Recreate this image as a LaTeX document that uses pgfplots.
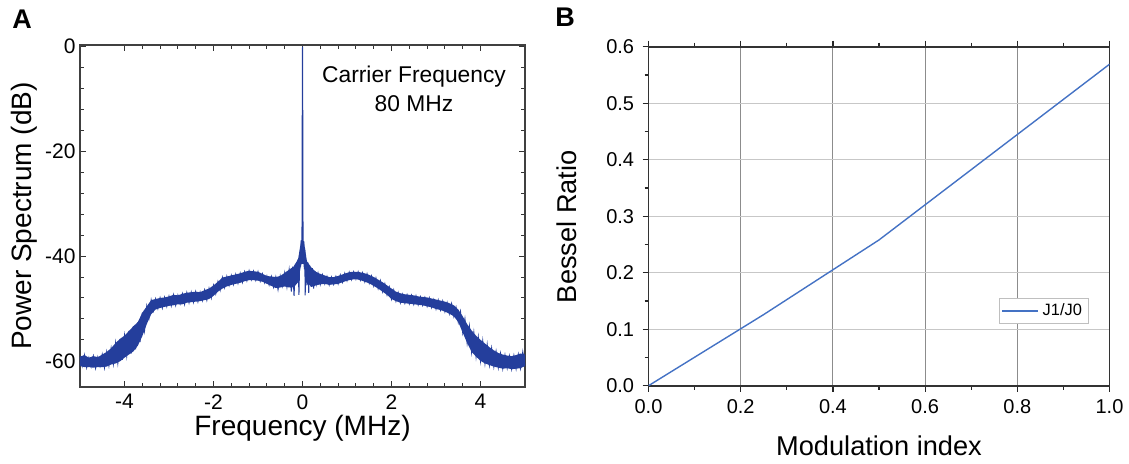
\documentclass[border=0pt]{standalone}
\usepackage{pgfplots}
\pgfplotsset{compat=1.18}
\usepackage{fontspec}
\setmainfont{Liberation Sans}
\definecolor{specblue}{RGB}{36,62,156}
\definecolor{besselblue}{RGB}{68,114,196}
\pgfplotstableread{
f db
-5.00 -59.2
-4.95 -61.0
-4.90 -58.9
-4.85 -61.3
-4.80 -59.4
-4.75 -61.1
-4.70 -59.1
-4.65 -61.4
-4.60 -59.3
-4.55 -61.0
-4.50 -58.8
-4.45 -61.3
-4.40 -58.3
-4.35 -60.9
-4.30 -57.6
-4.25 -60.6
-4.20 -56.6
-4.15 -60.4
-4.10 -55.8
-4.05 -59.8
-4.00 -55.2
-3.95 -59.0
-3.90 -54.3
-3.85 -58.6
-3.80 -53.4
-3.75 -57.8
-3.70 -52.6
-3.65 -56.4
-3.60 -50.8
-3.55 -54.2
-3.50 -49.6
-3.45 -51.8
-3.40 -48.4
-3.35 -50.4
-3.30 -48.2
-3.25 -50.0
-3.20 -48.0
-3.15 -49.9
-3.10 -47.9
-3.05 -49.6
-3.00 -47.7
-2.95 -49.5
-2.90 -47.4
-2.85 -49.4
-2.80 -47.5
-2.75 -49.1
-2.70 -47.2
-2.65 -49.2
-2.60 -47.0
-2.55 -48.9
-2.50 -46.9
-2.45 -48.8
-2.40 -46.8
-2.35 -48.7
-2.30 -46.9
-2.25 -48.5
-2.20 -46.5
-2.15 -48.4
-2.10 -46.2
-2.05 -48.0
-2.00 -45.6
-1.95 -47.2
-1.90 -44.9
-1.85 -46.5
-1.80 -44.1
-1.75 -46.0
-1.70 -43.9
-1.65 -45.6
-1.60 -43.7
-1.55 -45.4
-1.50 -43.5
-1.45 -45.2
-1.40 -43.3
-1.35 -45.0
-1.30 -43.0
-1.25 -44.7
-1.20 -42.8
-1.15 -44.5
-1.10 -42.9
-1.05 -44.6
-1.00 -43.0
-0.95 -44.8
-0.90 -43.4
-0.85 -45.1
-0.80 -43.8
-0.75 -45.5
-0.70 -43.9
-0.65 -45.9
-0.60 -44.0
-0.55 -46.4
-0.50 -43.8
-0.45 -45.7
-0.40 -43.2
-0.35 -45.9
-0.30 -42.6
-0.25 -46.8
-0.22 -42.0
-0.19 -47.6
-0.16 -41.5
-0.13 -45.0
-0.10 -40.6
-0.08 -47.4
-0.06 -39.5
-0.04 -42.0
-0.03 -37.0
-0.02 -41.5
-0.012 -36.8
-0.004 -6.5
0.000 0.0
0.004 -6.5
0.012 -36.8
0.02 -41.0
0.03 -37.2
0.04 -42.5
0.05 -38.5
0.06 -47.5
0.08 -40.8
0.10 -45.6
0.12 -41.2
0.14 -47.0
0.16 -41.8
0.19 -45.8
0.22 -42.3
0.25 -46.2
0.28 -42.9
0.31 -45.3
0.35 -43.3
0.40 -45.4
0.45 -43.6
0.50 -45.3
0.55 -43.9
0.60 -45.5
0.65 -44.0
0.70 -45.4
0.75 -43.9
0.80 -45.3
0.85 -43.6
0.90 -45.0
0.95 -43.3
1.00 -44.7
1.05 -43.1
1.10 -44.5
1.15 -43.0
1.20 -44.4
1.25 -43.0
1.30 -44.6
1.35 -43.2
1.40 -44.9
1.45 -43.4
1.50 -45.2
1.55 -43.8
1.60 -45.7
1.65 -44.2
1.70 -46.2
1.75 -44.7
1.80 -46.8
1.85 -45.3
1.90 -47.4
1.95 -45.9
2.00 -48.2
2.05 -46.5
2.10 -48.6
2.15 -47.0
2.20 -48.9
2.25 -47.3
2.30 -49.0
2.35 -47.4
2.40 -49.1
2.45 -47.5
2.50 -49.2
2.55 -47.6
2.60 -49.3
2.65 -47.8
2.70 -49.4
2.75 -47.9
2.80 -49.6
2.85 -48.0
2.90 -49.8
2.95 -48.3
3.00 -50.1
3.05 -48.4
3.10 -50.3
3.15 -48.6
3.20 -50.6
3.25 -48.9
3.30 -51.0
3.35 -49.1
3.40 -51.5
3.45 -49.8
3.50 -52.6
3.55 -50.6
3.60 -54.6
3.65 -52.0
3.70 -56.6
3.75 -53.4
3.80 -58.3
3.85 -54.6
3.90 -59.2
3.95 -55.5
4.00 -60.0
4.05 -56.2
4.10 -60.5
4.15 -56.9
4.20 -60.8
4.25 -57.6
4.30 -61.1
4.35 -58.2
4.40 -61.3
4.45 -58.6
4.50 -61.5
4.55 -58.9
4.60 -61.4
4.65 -59.1
4.70 -61.6
4.75 -59.0
4.80 -61.5
4.85 -58.8
4.90 -61.4
4.95 -58.3
5.00 -61.0
}\spectrum
% band outline: upper envelope left to right, then lower envelope right to left
\pgfplotstableread{
f db
-5.0 -59.2
-4.9 -58.9
-4.8 -59.4
-4.7 -59.1
-4.6 -59.3
-4.5 -58.8
-4.4 -58.3
-4.3 -57.6
-4.2 -56.6
-4.1 -55.8
-4.0 -55.2
-3.9 -54.3
-3.8 -53.4
-3.7 -52.6
-3.6 -50.8
-3.5 -49.6
-3.4 -48.4
-3.3 -48.2
-3.2 -48.0
-3.1 -47.9
-3.0 -47.7
-2.9 -47.4
-2.8 -47.5
-2.7 -47.2
-2.6 -47.0
-2.5 -46.9
-2.4 -46.8
-2.3 -46.9
-2.2 -46.5
-2.1 -46.2
-2.0 -45.6
-1.9 -44.9
-1.8 -44.1
-1.7 -43.9
-1.6 -43.7
-1.5 -43.5
-1.4 -43.3
-1.3 -43.0
-1.2 -42.8
-1.1 -42.9
-1.0 -43.0
-0.9 -43.4
-0.8 -43.8
-0.7 -43.9
-0.6 -44.0
-0.5 -43.8
-0.4 -43.2
-0.3 -42.6
-0.2 -42.0
-0.1 -40.6
-0.03 -37.0
0.03 -37.2
0.1 -41.0
0.2 -42.2
0.3 -43.0
0.4 -43.4
0.5 -43.7
0.6 -44.0
0.7 -44.0
0.8 -43.8
0.9 -43.5
1.0 -43.2
1.1 -43.0
1.2 -43.0
1.3 -43.1
1.4 -43.3
1.5 -43.6
1.6 -44.0
1.7 -44.5
1.8 -45.0
1.9 -45.6
2.0 -46.2
2.1 -46.8
2.2 -47.1
2.3 -47.3
2.4 -47.4
2.5 -47.5
2.6 -47.7
2.7 -47.8
2.8 -47.9
2.9 -48.1
3.0 -48.3
3.1 -48.5
3.2 -48.7
3.3 -49.0
3.4 -49.4
3.5 -50.2
3.6 -51.5
3.7 -53.0
3.8 -54.2
3.9 -55.2
4.0 -56.0
4.1 -56.7
4.2 -57.4
4.3 -58.0
4.4 -58.5
4.5 -58.8
4.6 -59.0
4.7 -59.1
4.8 -58.9
4.9 -58.6
5.0 -58.8
5.0 -61.0
4.9 -61.4
4.8 -61.5
4.7 -61.6
4.6 -61.4
4.5 -61.5
4.4 -61.3
4.3 -61.1
4.2 -60.8
4.1 -60.5
4.0 -60.0
3.9 -59.2
3.8 -58.3
3.7 -56.6
3.6 -54.6
3.5 -52.6
3.4 -51.5
3.3 -51.0
3.2 -50.6
3.1 -50.3
3.0 -50.1
2.9 -49.8
2.8 -49.6
2.7 -49.4
2.6 -49.3
2.5 -49.2
2.4 -49.1
2.3 -49.0
2.2 -48.9
2.1 -48.6
2.0 -48.2
1.9 -47.4
1.8 -46.8
1.7 -46.2
1.6 -45.7
1.5 -45.2
1.4 -44.9
1.3 -44.6
1.2 -44.4
1.1 -44.5
1.0 -44.7
0.9 -45.0
0.8 -45.3
0.7 -45.4
0.6 -45.5
0.5 -45.3
0.4 -45.4
0.3 -45.6
0.2 -45.9
0.1 -45.0
0.03 -41.5
-0.03 -41.5
-0.1 -45.0
-0.2 -46.0
-0.3 -46.0
-0.4 -45.8
-0.5 -46.0
-0.6 -46.1
-0.7 -45.7
-0.8 -45.3
-0.9 -44.9
-1.0 -44.7
-1.1 -44.6
-1.2 -44.6
-1.3 -44.8
-1.4 -45.1
-1.5 -45.3
-1.6 -45.5
-1.7 -45.8
-1.8 -46.2
-1.9 -46.8
-2.0 -47.6
-2.1 -48.2
-2.2 -48.4
-2.3 -48.6
-2.4 -48.7
-2.5 -48.8
-2.6 -48.9
-2.7 -49.2
-2.8 -49.2
-2.9 -49.4
-3.0 -49.5
-3.1 -49.7
-3.2 -49.9
-3.3 -50.2
-3.4 -51.1
-3.5 -53.0
-3.6 -55.3
-3.7 -57.1
-3.8 -58.2
-3.9 -58.8
-4.0 -59.4
-4.1 -60.1
-4.2 -60.5
-4.3 -60.7
-4.4 -61.1
-4.5 -61.2
-4.6 -61.2
-4.7 -61.3
-4.8 -61.2
-4.9 -61.2
-5.0 -61.0
}\band
\pgfplotstableread{
m r
0.00 0.000
0.25 0.126
0.50 0.258
1.00 0.569
}\bessel
\begin{document}
\begin{tikzpicture}
\path[use as bounding box] (0,0) rectangle (564.5pt,231.5pt);
\node[anchor=base west, font=\fontsize{13.5}{15}\selectfont\bfseries, inner sep=0pt] at (6pt,217.5pt) {A};
\node[anchor=base west, font=\fontsize{13.5}{15}\selectfont\bfseries, inner sep=0pt] at (277.5pt,218.2pt) {B};
\begin{axis}[
  at={(40pt,38pt)}, anchor=south west,
  scale only axis, width=222.5pt, height=171pt,
  xmin=-5, xmax=5, ymin=-65, ymax=0.3,
  xtick={-4,-2,0,2,4}, xticklabels={-4,-2,0,2,4},
  ytick={-60,-40,-20,0}, yticklabels={-60,-40,-20,0},
  minor x tick num=4, minor y tick num=4,
  tick align=inside,
  major tick length=3pt, minor tick length=1.8pt,
  every tick/.style={black!80, line width=0.5pt},
  axis line style={black!75, line width=0.6pt},
  tick label style={font=\fontsize{10.5}{12}\selectfont, inner sep=0pt},
  xticklabel style={yshift=-3.5pt},
  yticklabel style={xshift=-2pt},
  xlabel={Frequency (MHz)},
  ylabel={Power Spectrum (dB)},
  label style={font=\fontsize{14}{16}\selectfont, inner sep=0pt},
  xlabel style={at={(axis description cs:0.5,-0.1404)}, anchor=base},
  ylabel style={at={(axis description cs:-0.1085,0.5)}, anchor=base},
]
\addplot[fill=specblue, draw=none] table[x=f, y=db] {\band};
\addplot[specblue, line width=0.5pt] table[x=f, y=db] {\spectrum};
\node[anchor=base, font=\fontsize{11.4}{13}\selectfont] at (rel axis cs:0.7506,0.889) {Carrier Frequency};
\node[anchor=base, font=\fontsize{11.4}{13}\selectfont] at (rel axis cs:0.7506,0.805) {80 MHz};
\end{axis}
\begin{axis}[
  at={(324.25pt,38.65pt)}, anchor=south west,
  scale only axis, width=230.5pt, height=169.5pt,
  xmin=0, xmax=1, ymin=0, ymax=0.6,
  xtick={0,0.2,0.4,0.6,0.8,1.0}, xticklabels={0.0,0.2,0.4,0.6,0.8,1.0},
  ytick={0,0.1,0.2,0.3,0.4,0.5,0.6}, yticklabels={0.0,0.1,0.2,0.3,0.4,0.5,0.6},
  minor x tick num=1, minor y tick num=1,
  tick align=outside, xtick pos=both, ytick pos=left,
  major tick length=3pt, minor tick length=2pt,
  every tick/.style={black!85, line width=0.6pt},
  axis line style={black!80, line width=0.8pt},
  grid=major,
  major x grid style={black!45, line width=0.5pt},
  major y grid style={black!22, line width=0.7pt},
  tick label style={font=\fontsize{10}{12}\selectfont, inner sep=0pt},
  xticklabel style={yshift=-3.6pt},
  yticklabel style={xshift=-4pt},
  xlabel={Modulation index},
  ylabel={Bessel Ratio},
  label style={font=\fontsize{13.6}{15}\selectfont, inner sep=0pt},
  xlabel style={at={(axis description cs:0.5,-0.2044)}, anchor=base},
  ylabel style={at={(axis description cs:-0.1557,0.469)}, anchor=base},
  legend style={at={(0.954,0.2578)}, anchor=north east, draw=black!25, fill=white,
    font=\fontsize{8.2}{9}\selectfont, inner xsep=1pt, inner ysep=0.5pt},
  legend cell align=left,
  legend image code/.code={\draw[#1] (0pt,0pt) -- (18pt,0pt);},
]
\addplot[besselblue, line width=0.7pt] table[x=m, y=r] {\bessel};
\addlegendentry{J1/J0}
\end{axis}
\end{tikzpicture}
\end{document}
